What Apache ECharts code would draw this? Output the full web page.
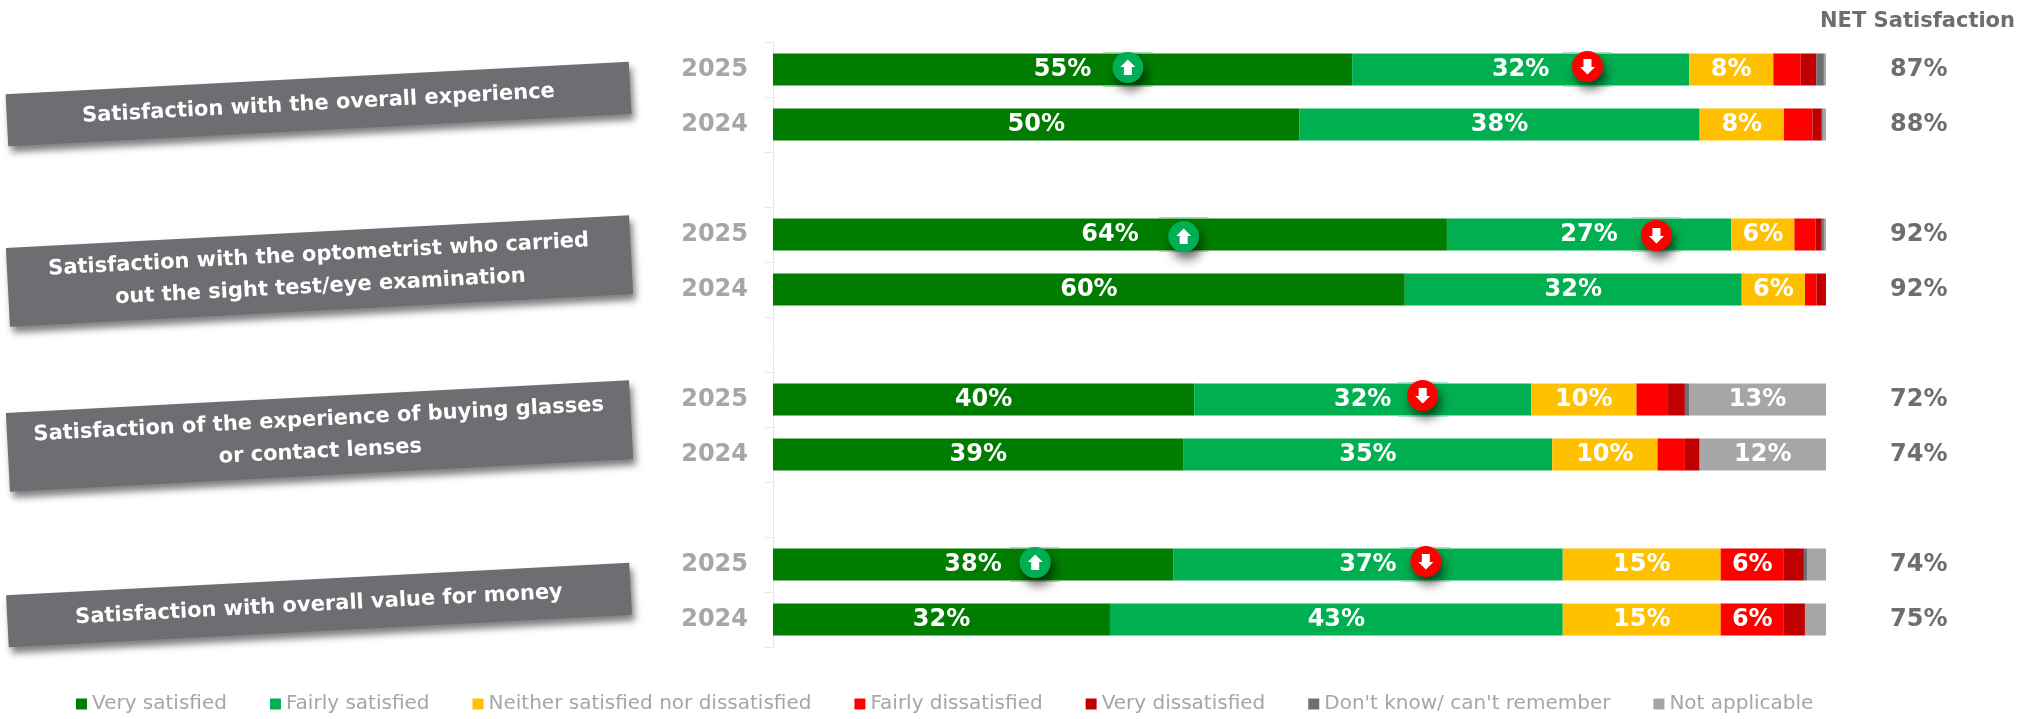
<!DOCTYPE html>
<html>
<head>
<meta charset="utf-8">
<style>html,body{margin:0;padding:0;background:#fff}#chart{width:2028px;height:719px}</style>
<script src="https://cdn.jsdelivr.net/npm/echarts@6/dist/echarts.min.js"></script>
</head>
<body>
<div id="chart"></div>
<script>
// Rows run top to bottom; null rows are the spacers between the four questions.
var years = ['2025', '2024', '', '2025', '2024', '', '2025', '2024', '', '2025', '2024'];
var netSatisfaction = ['87%', '88%', '', '92%', '92%', '', '72%', '74%', '', '74%', '75%'];

var verySatisfied = [55, 50, null, 64, 60, null, 40, 39, null, 38, 32];
var fairlySatisfied = [32, 38, null, 27, 32, null, 32, 35, null, 37, 43];
var neither = [8, 8, null, 6, 6, null, 10, 10, null, 15, 15];
var fairlyDissatisfied = [2.6, 2.7, null, 2, 1.1, null, 3, 2.6, null, 6, 6];
var veryDissatisfied = [1.5, 0.9, null, 0.6, 0.9, null, 1.6, 1.4, null, 1.9, 2];
var dontKnow = [0.7, 0.1, null, 0.2, 0, null, 0.4, 0, null, 0.3, 0];
var notApplicable = [0.2, 0.3, null, 0.2, 0, null, 13, 12, null, 1.8, 2];

var seriesNames = ['Very satisfied', 'Fairly satisfied', 'Neither satisfied nor dissatisfied',
  'Fairly dissatisfied', 'Very dissatisfied', "Don't know/ can't remember", 'Not applicable'];
var seriesValues = [verySatisfied, fairlySatisfied, neither, fairlyDissatisfied,
  veryDissatisfied, dontKnow, notApplicable];
var seriesColors = ['#007d00', '#00b050', '#ffc000', '#ff0000', '#c00000', '#6d6e71', '#a6a6a6'];

// Significance flags: row index, position along the scale, direction (+1 up, -1 down).
var flagRows = [0, 0, 3, 3, 6, 9, 9];
var flagPositions = [33.7, 77.35, 39.0, 83.9, 61.7, 24.9, 62.0];
var flagDirections = [1, -1, 1, -1, -1, 1, -1];
var flagShifts = [-2, -3, 2, 1, -4, -2, -3];

var questionTitles = [
  'Satisfaction with the overall experience',
  'Satisfaction with the optometrist who carried\nout the sight test/eye examination',
  'Satisfaction of the experience of buying glasses\nor contact lenses',
  'Satisfaction with overall value for money'
];
var questionBoxes = [
  { cx: 318.5, cy: 104, h: 52 },
  { cx: 319.5, cy: 271, h: 79 },
  { cx: 319.5, cy: 436, h: 79 },
  { cx: 319, cy: 605, h: 52 }
];

var FONT = '"DejaVu Sans", Verdana, sans-serif';
var GREY = '#6d6e71';
var LIGHT = '#a6a6a6';
var BAR_HEIGHT = 32;

var barSeries = seriesNames.map(function (name, i) {
  return {
    name: name,
    type: 'bar',
    stack: 'share',
    barWidth: BAR_HEIGHT,
    itemStyle: { color: seriesColors[i] },
    data: seriesValues[i],
    label: {
      show: true,
      position: 'inside',
      color: '#fff',
      fontFamily: FONT,
      fontWeight: 'bold',
      fontSize: 24,
      formatter: function (p) { return p.value >= 5 ? p.value + '%' : ''; }
    }
  };
});

// The round arrow badge sitting on a bar, with the faint rules of its backing frame.
function renderFlag(params, api) {
  var row = api.value(1);
  var base = api.coord([api.value(0), row]);
  var x = base[0];
  var y = base[1] + api.value(3);
  var dir = api.value(2);
  var fill = dir > 0 ? '#00ae55' : '#ff0000';
  var rule = dir > 0 ? 'rgba(150,215,170,0.8)' : 'rgba(150,225,185,0.8)';
  var s = -dir;
  return {
    type: 'group',
    children: [
      { type: 'line', shape: { x1: x - 25, y1: base[1] - BAR_HEIGHT / 2 - 1, x2: x + 25, y2: base[1] - BAR_HEIGHT / 2 - 1 },
        style: { stroke: rule, lineWidth: 1 } },
      { type: 'line', shape: { x1: x - 25, y1: base[1] + BAR_HEIGHT / 2 + 1, x2: x + 25, y2: base[1] + BAR_HEIGHT / 2 + 1 },
        style: { stroke: rule, lineWidth: 1 } },
      { type: 'circle', shape: { cx: x, cy: y, r: 15.5 },
        style: { fill: fill, shadowBlur: 11, shadowOffsetX: 3, shadowOffsetY: 7, shadowColor: 'rgba(0,0,0,0.6)' } },
      { type: 'polygon', shape: { points: [
          [x, y + s * 8], [x + 7.5, y + s * 0.5], [x + 4, y + s * 0.5], [x + 4, y - s * 7.5],
          [x - 4, y - s * 7.5], [x - 4, y + s * 0.5], [x - 7.5, y + s * 0.5]
        ] }, style: { fill: '#fff' } }
    ]
  };
}

var flagData = flagRows.map(function (row, i) {
  return [flagPositions[i], row, flagDirections[i], flagShifts[i]];
});

// Tilted question banners down the left-hand side.
var banners = questionTitles.map(function (title, i) {
  var box = questionBoxes[i];
  return {
    type: 'group',
    x: box.cx,
    y: box.cy,
    rotation: 3 * Math.PI / 180,
    children: [
      { type: 'rect', shape: { x: -312, y: -box.h / 2, width: 624, height: box.h },
        style: { fill: GREY, shadowBlur: 7, shadowOffsetX: 3, shadowOffsetY: 6, shadowColor: 'rgba(0,0,0,0.5)' } },
      { type: 'text', x: 0, y: 0,
        style: { text: title, fill: '#fff', align: 'center', verticalAlign: 'middle',
          font: 'bold 21px ' + FONT, lineHeight: 32 } }
    ]
  };
});

var chart = echarts.init(document.getElementById('chart'), null, { renderer: 'canvas' });
chart.setOption({
  animation: false,
  backgroundColor: '#fff',
  title: {
    text: 'NET Satisfaction',
    right: 8,
    top: 6,
    textStyle: { color: GREY, fontFamily: FONT, fontWeight: 'bold', fontSize: 21 }
  },
  legend: {
    data: seriesNames,
    left: 71,
    top: 689,
    icon: 'rect',
    itemWidth: 11,
    itemHeight: 11,
    itemGap: 43,
    selectedMode: false,
    textStyle: { color: LIGHT, fontFamily: FONT, fontSize: 20 }
  },
  grid: { left: 773, top: 42, width: 1053, height: 605 },
  xAxis: { type: 'value', min: 0, max: 100, show: false },
  yAxis: [
    {
      type: 'category',
      inverse: true,
      data: years,
      axisLine: { lineStyle: { color: '#e6e6e6' } },
      axisTick: { show: true, length: 8, lineStyle: { color: '#e6e6e6' } },
      axisLabel: { interval: 0, margin: 25, color: LIGHT, fontFamily: FONT, fontWeight: 'bold', fontSize: 24 }
    },
    {
      type: 'category',
      inverse: true,
      position: 'right',
      data: netSatisfaction,
      axisLine: { show: false },
      axisTick: { show: false },
      axisLabel: { interval: 0, margin: 64, padding: [3, 0, 0, 0], color: GREY, fontFamily: FONT, fontWeight: 'bold', fontSize: 24 }
    }
  ],
  series: barSeries.concat([{
    name: 'flags',
    type: 'custom',
    renderItem: renderFlag,
    data: flagData,
    encode: { x: 0, y: 1 },
    clip: false,
    silent: true,
    z: 5
  }]),
  graphic: banners
});
</script>
</body>
</html>
